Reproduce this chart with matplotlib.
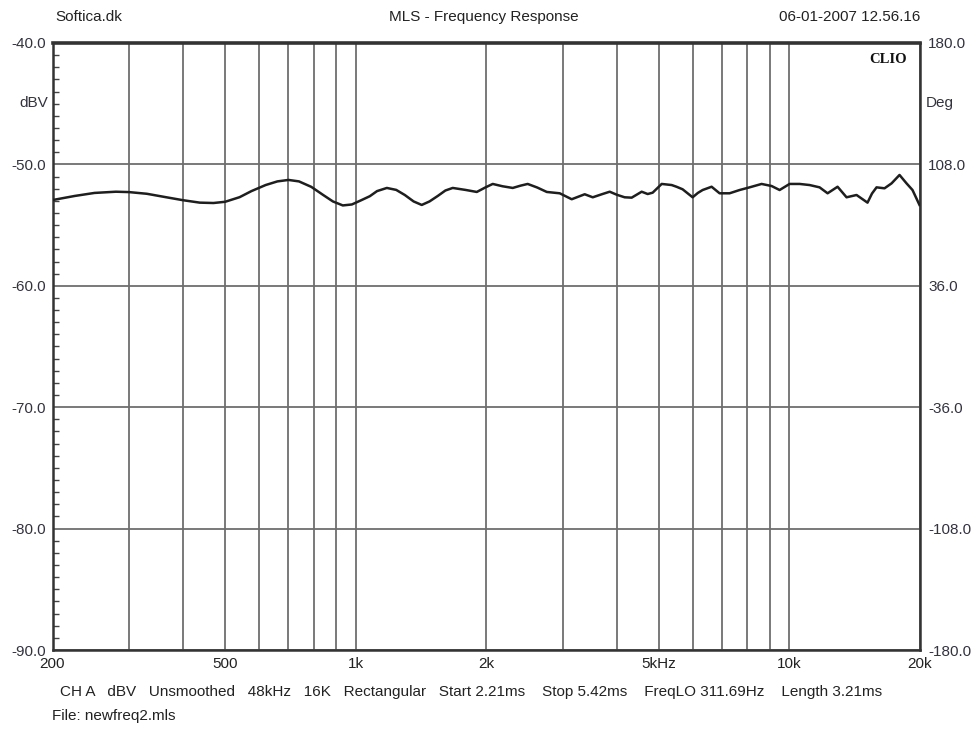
import numpy as np
import matplotlib
matplotlib.use("Agg")
import matplotlib.pyplot as plt
from matplotlib.ticker import FixedLocator, MultipleLocator, NullFormatter

# ---- data ----
freq_hz = [200.5, 225, 250, 280, 300, 330, 365, 400, 437, 470, 500, 540, 575, 620, 660,
           700, 740, 790, 840, 886, 934, 980, 1030, 1078, 1120, 1180, 1240, 1298, 1360,
           1420, 1480, 1546, 1610, 1674, 1790, 1902, 1990, 2070, 2180, 2302, 2400, 2492,
           2620, 2758, 2954, 3148, 3373, 3520, 3700, 3852, 4000, 4170, 4328, 4564, 4712,
           4838, 5076, 5352, 5500, 5672, 5982, 6150, 6308, 6616, 6902, 7278, 7676, 8094,
           8626, 9096, 9492, 10008, 10556, 11130, 11736, 12246, 12912, 13542, 14280,
           15136, 15500, 15880, 16566, 17200, 17940, 18618, 19220, 19944]
level_dbv = [-52.93, -52.60, -52.35, -52.25, -52.28, -52.42, -52.70, -52.95, -53.15, -53.18,
             -53.08, -52.70, -52.20, -51.70, -51.40, -51.28, -51.40, -51.85, -52.50, -53.05,
             -53.38, -53.30, -52.95, -52.62, -52.20, -51.94, -52.10, -52.52, -53.05, -53.34,
             -53.05, -52.60, -52.15, -51.94, -52.10, -52.27, -51.90, -51.61, -51.80, -51.94,
             -51.75, -51.61, -51.90, -52.27, -52.38, -52.87, -52.46, -52.71, -52.45, -52.25,
             -52.50, -52.71, -52.74, -52.25, -52.44, -52.33, -51.61, -51.70, -51.85, -52.05,
             -52.71, -52.35, -52.11, -51.84, -52.38, -52.38, -52.11, -51.89, -51.61, -51.78,
             -52.11, -51.61, -51.61, -51.70, -51.89, -52.38, -51.84, -52.71, -52.52, -53.15,
             -52.40, -51.89, -51.97, -51.56, -50.87, -51.56, -52.11, -53.34]

x_label_freqs = [200, 500, 1000, 2000, 5000, 10000, 20000]
x_labels = ["200", "500", "1k", "2k", "5kHz", "10k", "20k"]
x_grid_freqs = [300, 400, 600, 700, 800, 900, 3000, 4000, 6000, 7000, 8000, 9000]
y_ticks = [-90, -80, -70, -60, -50, -40]
y_labels = ["-90.0", "-80.0", "-70.0", "-60.0", "-50.0", "-40.0"]
deg_ticks = [-180, -108, -36, 36, 108, 180]
deg_labels = ["-180.0", "-108.0", "-36.0", "36.0", "108.0", "180.0"]

header_left = "Softica.dk"
header_mid = "MLS - Frequency Response"
header_right = "06-01-2007 12.56.16"
info_line = ("CH A   dBV   Unsmoothed   48kHz   16K   Rectangular   Start 2.21ms    "
             "Stop 5.42ms    FreqLO 311.69Hz    Length 3.21ms")
file_line = "File: newfreq2.mls"

plt.rcParams['font.family'] = ['Liberation Sans', 'DejaVu Sans']
W, H = 974, 731
fig = plt.figure(figsize=(W / 100, H / 100), dpi=100)
L, R, T, B = 52.5, 920, 43, 650
ax = fig.add_axes([L / W, 1 - B / H, (R - L) / W, (B - T) / H])

fs = 11
grid_c = '#6e6e6e'
lab_c = '#333340'
ax.set_xscale('log')
ax.set_xlim(200, 20000)
ax.set_ylim(-90, -40)

ax.xaxis.set_major_locator(FixedLocator(x_label_freqs))
ax.set_xticks(x_label_freqs, x_labels)
ax.xaxis.set_minor_locator(FixedLocator(x_grid_freqs))
ax.xaxis.set_minor_formatter(NullFormatter())
ax.set_yticks(y_ticks, y_labels)
ax.yaxis.set_minor_locator(MultipleLocator(1))

ax.grid(True, which='major', color=grid_c, lw=1.3)
ax.grid(True, which='minor', axis='x', color=grid_c, lw=1.3)
ax.tick_params(axis='x', which='both', length=0, pad=5, labelsize=fs, colors='#222222')
ax.tick_params(axis='y', which='major', length=0, pad=5, labelsize=fs, labelcolor=lab_c)
ax.tick_params(axis='y', which='minor', length=4, width=1, direction='in',
               left=True, right=True, color='#444444')

ax.plot(freq_hz, level_dbv, color='#1e1e1e', lw=1.8, zorder=5)

for s in ax.spines.values():
    s.set_color('#333333')
    s.set_linewidth(1.8)
ax.spines['top'].set_linewidth(2.6)

ax2 = ax.twinx()
ax2.set_ylim(-180, 180)
ax2.set_yticks(deg_ticks, deg_labels)
ax2.tick_params(axis='y', length=0, pad=6, labelsize=fs, labelcolor=lab_c)
for s in ax2.spines.values():
    s.set_visible(False)

fig.text(48 / W, 1 - 103 / H, "dBV", ha='right', va='center', fontsize=fs, color=lab_c)
fig.text(926 / W, 1 - 103 / H, "Deg", ha='left', va='center', fontsize=fs, color=lab_c)
ax.text(0.985, 0.983, "CLIO", transform=ax.transAxes, ha='right', va='top',
        fontsize=10.5, fontweight='bold', family='Liberation Serif', color='#111111')

fig.text(55 / W, 1 - 17 / H, header_left, ha='left', va='center', fontsize=fs, color='#222222')
fig.text(484 / W, 1 - 17 / H, header_mid, ha='center', va='center', fontsize=fs, color='#222222')
fig.text(920 / W, 1 - 17 / H, header_right, ha='right', va='center', fontsize=fs, color='#222222')
fig.text(60 / W, 1 - 692 / H, info_line, ha='left', va='center', fontsize=fs, color='#222222')
fig.text(52 / W, 1 - 716 / H, file_line, ha='left', va='center', fontsize=fs, color='#222222')

fig.savefig("out.png", dpi=100)
